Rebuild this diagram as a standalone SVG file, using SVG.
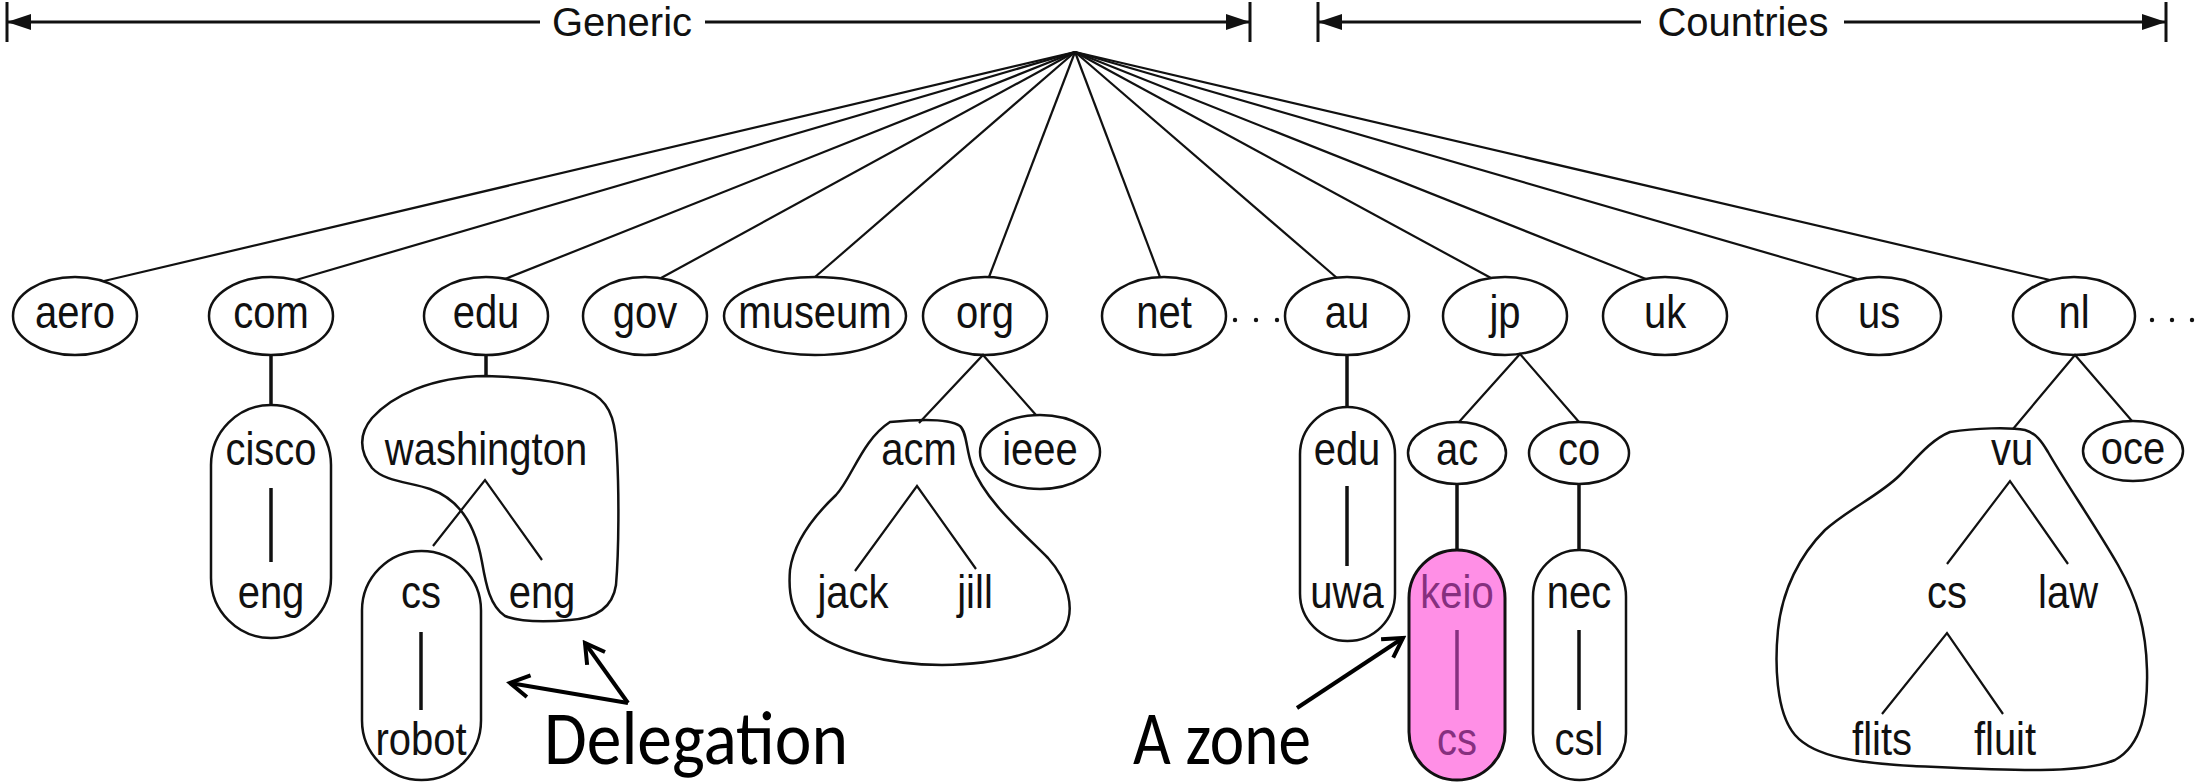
<svg xmlns="http://www.w3.org/2000/svg" width="2198" height="783" viewBox="0 0 2198 783">
<defs>
<style>
.lbl{font-family:"Liberation Sans",Arial,sans-serif;font-size:40px;text-anchor:middle;fill:#111}
.pk{fill:#86307f}
.bar{font-family:"Liberation Sans",Arial,sans-serif;font-size:40px;text-anchor:middle;fill:#111}
.ann{font-family:Carlito,Lato,"Liberation Sans",sans-serif;font-size:76px;fill:#000}
.node{fill:#fff;stroke:#111;stroke-width:2.5}
.zone{fill:none;stroke:#111;stroke-width:2.5}
.pink{fill:#ff8fe6;stroke:#111;stroke-width:3}
.edge{stroke:#111;stroke-width:2.2;fill:none}
.vedge{stroke:#111;stroke-width:3.5}
.pedge{stroke:#86307f;stroke-width:3.5}
.barline{stroke:#111;stroke-width:3;fill:none}
.tick{stroke:#111;stroke-width:3}
.ann-line{stroke:#000;stroke-width:4;fill:none}
.dot{fill:#111}
</style>
<marker id="tri" viewBox="0 0 24 16" refX="24" refY="8" markerWidth="24" markerHeight="16" markerUnits="userSpaceOnUse" orient="auto-start-reverse">
<path d="M0,0 L24,8 L0,16 z" fill="#111"/>
</marker>
<marker id="vee" viewBox="0 0 26 26" refX="22" refY="13" markerWidth="26" markerHeight="26" markerUnits="userSpaceOnUse" orient="auto">
<path d="M3,2 L22,13 L3,24" fill="none" stroke="#000" stroke-width="4"/>
</marker>
</defs>
<rect width="2198" height="783" fill="#fff"/>

<g id="generic-bar">
<line class="tick" x1="7" y1="2" x2="7" y2="42"/>
<line class="barline" x1="7" y1="22" x2="540" y2="22" marker-start="url(#tri)"/>
<text class="bar" x="622" y="36">Generic</text>
<line class="barline" x1="705" y1="22" x2="1250" y2="22" marker-end="url(#tri)"/>
<line class="tick" x1="1250" y1="2" x2="1250" y2="42"/>
</g>
<g id="countries-bar">
<line class="tick" x1="1318" y1="2" x2="1318" y2="42"/>
<line class="barline" x1="1318" y1="22" x2="1641" y2="22" marker-start="url(#tri)"/>
<text class="bar" x="1743" y="36">Countries</text>
<line class="barline" x1="1844" y1="22" x2="2166" y2="22" marker-end="url(#tri)"/>
<line class="tick" x1="2166" y1="2" x2="2166" y2="42"/>
</g>

<g id="nodes">
<g id="n-aero"><ellipse class="node" cx="75" cy="316" rx="62" ry="39"/><text class="lbl" transform="translate(75,328) scale(1,1.15)">aero</text></g>
<g id="n-com"><ellipse class="node" cx="271" cy="316" rx="62" ry="39"/><text class="lbl" transform="translate(271,328) scale(1,1.15)">com</text></g>
<g id="n-edu"><ellipse class="node" cx="486" cy="316" rx="62" ry="39"/><text class="lbl" transform="translate(486,328) scale(1,1.15)">edu</text></g>
<g id="n-gov"><ellipse class="node" cx="645" cy="316" rx="62" ry="39"/><text class="lbl" transform="translate(645,328) scale(1,1.15)">gov</text></g>
<g id="n-museum"><ellipse class="node" cx="815" cy="316" rx="91" ry="39"/><text class="lbl" transform="translate(815,328) scale(1,1.15)">museum</text></g>
<g id="n-org"><ellipse class="node" cx="985" cy="316" rx="62" ry="39"/><text class="lbl" transform="translate(985,328) scale(1,1.15)">org</text></g>
<g id="n-net"><ellipse class="node" cx="1164" cy="316" rx="62" ry="39"/><text class="lbl" transform="translate(1164,328) scale(1,1.15)">net</text></g>
<g id="n-au"><ellipse class="node" cx="1347" cy="316" rx="62" ry="39"/><text class="lbl" transform="translate(1347,328) scale(1,1.15)">au</text></g>
<g id="n-jp"><ellipse class="node" cx="1505" cy="316" rx="62" ry="39"/><text class="lbl" transform="translate(1505,328) scale(1,1.15)">jp</text></g>
<g id="n-uk"><ellipse class="node" cx="1665" cy="316" rx="62" ry="39"/><text class="lbl" transform="translate(1665,328) scale(1,1.15)">uk</text></g>
<g id="n-us"><ellipse class="node" cx="1879" cy="316" rx="62" ry="39"/><text class="lbl" transform="translate(1879,328) scale(1,1.15)">us</text></g>
<g id="n-nl"><ellipse class="node" cx="2074" cy="316" rx="61" ry="39"/><text class="lbl" transform="translate(2074,328) scale(1,1.15)">nl</text></g>

<g id="dots">
<circle class="dot" cx="1235" cy="320" r="2.2"/><circle class="dot" cx="1256" cy="320" r="2.2"/><circle class="dot" cx="1277" cy="320" r="2.2"/>
<circle class="dot" cx="2152" cy="320" r="2.2"/><circle class="dot" cx="2172" cy="320" r="2.2"/><circle class="dot" cx="2192" cy="320" r="2.2"/>
</g>

<g id="z-cisco"><rect class="zone" x="211" y="405" width="120" height="233" rx="60" ry="60"/>
<text class="lbl" transform="translate(271,465) scale(1,1.15)">cisco</text>
<text class="lbl" transform="translate(271,608) scale(1,1.15)">eng</text></g>

<g id="z-washington"><path class="zone" d="M486,376 C530,377 575,383 595,395 C612,406 616,425 617,455 C619,490 619,550 616,585 C613,605 600,618 570,620 C545,622 520,622 505,616 C490,606 486,585 482,562 C476,528 462,500 430,489 C410,482 385,482 372,468 C360,452 358,435 372,418 C392,396 430,377 486,376 Z"/>
<text class="lbl" transform="translate(486,465) scale(1,1.15)">washington</text>
<text class="lbl" transform="translate(542,608) scale(1,1.15)">eng</text></g>

<g id="z-cs-robot"><rect class="zone" x="362" y="551" width="119" height="229" rx="59.5" ry="59.5"/>
<text class="lbl" transform="translate(421,608) scale(1,1.15)">cs</text>
<text class="lbl" transform="translate(421,755) scale(1,1.15)">robot</text></g>

<g id="z-acm"><path class="zone" d="M890,422 C920,419 950,419 960,426 C967,432 966,450 972,466 C985,500 1020,530 1048,558 C1068,580 1076,610 1064,630 C1048,652 1000,664 942,665 C885,665 835,650 810,630 C792,614 788,595 790,570 C794,540 815,515 836,495 C852,478 862,440 890,422 Z"/>
<text class="lbl" transform="translate(919,465) scale(1,1.15)">acm</text>
<text class="lbl" transform="translate(853,608) scale(1,1.15)">jack</text>
<text class="lbl" transform="translate(975,608) scale(1,1.15)">jill</text></g>

<g id="n-ieee"><ellipse class="node" cx="1040" cy="452" rx="60" ry="37"/><text class="lbl" transform="translate(1040,465) scale(1,1.15)">ieee</text></g>

<g id="z-au-edu"><rect class="zone" x="1300" y="407" width="95" height="234" rx="47.5" ry="47.5"/>
<text class="lbl" transform="translate(1347,465) scale(1,1.15)">edu</text>
<text class="lbl" transform="translate(1347,608) scale(1,1.15)">uwa</text></g>

<g id="n-ac"><ellipse class="node" cx="1457" cy="453" rx="49" ry="31"/><text class="lbl" transform="translate(1457,465) scale(1,1.15)">ac</text></g>
<g id="n-co"><ellipse class="node" cx="1579" cy="453" rx="50" ry="31"/><text class="lbl" transform="translate(1579,465) scale(1,1.15)">co</text></g>

<g id="z-keio"><rect class="pink" x="1409" y="550" width="96" height="230" rx="48" ry="48"/>
<text class="lbl pk" transform="translate(1457,608) scale(1,1.15)">keio</text>
<text class="lbl pk" transform="translate(1457,755) scale(1,1.15)">cs</text></g>

<g id="z-nec"><rect class="zone" x="1533" y="550" width="93" height="230" rx="46.5" ry="46.5"/>
<text class="lbl" transform="translate(1579,608) scale(1,1.15)">nec</text>
<text class="lbl" transform="translate(1579,755) scale(1,1.15)">csl</text></g>

<g id="z-vu"><path class="zone" d="M1950,432 C1975,428 2010,427 2025,430 C2036,433 2042,442 2048,452 C2065,482 2095,525 2118,565 C2138,600 2146,630 2147,670 C2148,710 2142,745 2115,760 C2080,775 2000,770 1913,766 C1860,763 1815,758 1795,735 C1775,712 1775,660 1778,630 C1782,590 1800,555 1825,530 C1850,508 1880,495 1900,475 C1915,460 1930,440 1950,432 Z"/>
<text class="lbl" transform="translate(2012,465) scale(1,1.15)">vu</text>
<text class="lbl" transform="translate(1947,608) scale(1,1.15)">cs</text>
<text class="lbl" transform="translate(2068,608) scale(1,1.15)">law</text>
<text class="lbl" transform="translate(1882,755) scale(1,1.15)">flits</text>
<text class="lbl" transform="translate(2005,755) scale(1,1.15)">fluit</text></g>

<g id="n-oce"><ellipse class="node" cx="2133" cy="451" rx="50" ry="30"/><text class="lbl" transform="translate(2133,464) scale(1,1.15)">oce</text></g>
</g>

<g id="connectors">
<line class="edge" x1="1075" y1="52" x2="104" y2="281"/>
<line class="edge" x1="1075" y1="52" x2="296" y2="280"/>
<line class="edge" x1="1075" y1="52" x2="505" y2="279"/>
<line class="edge" x1="1075" y1="52" x2="661" y2="278"/>
<line class="edge" x1="1075" y1="52" x2="815" y2="277"/>
<line class="edge" x1="1075" y1="52" x2="989" y2="277"/>
<line class="edge" x1="1075" y1="52" x2="1160" y2="277"/>
<line class="edge" x1="1075" y1="52" x2="1337" y2="278"/>
<line class="edge" x1="1075" y1="52" x2="1491" y2="278"/>
<line class="edge" x1="1075" y1="52" x2="1646" y2="279"/>
<line class="edge" x1="1075" y1="52" x2="1857" y2="279"/>
<line class="edge" x1="1075" y1="52" x2="2050" y2="280"/>

<line class="vedge" x1="271" y1="355" x2="271" y2="405"/>
<line class="vedge" x1="271" y1="488" x2="271" y2="562"/>
<line class="vedge" x1="486" y1="355" x2="486" y2="376"/>
<polyline class="edge" points="433,546 485,480 542,560"/>
<line class="vedge" x1="421" y1="632" x2="421" y2="710"/>

<polyline class="edge" points="919,423 983,355 1036,415"/>
<polyline class="edge" points="855,571 917,486 976,569"/>

<line class="vedge" x1="1347" y1="355" x2="1347" y2="407"/>
<line class="vedge" x1="1347" y1="486" x2="1347" y2="566"/>
<polyline class="edge" points="1459,422 1520,354 1579,422"/>
<line class="vedge" x1="1457" y1="484" x2="1457" y2="550"/>
<line class="pedge" x1="1457" y1="630" x2="1457" y2="710"/>
<line class="vedge" x1="1579" y1="484" x2="1579" y2="550"/>
<line class="vedge" x1="1579" y1="630" x2="1579" y2="710"/>

<polyline class="edge" points="2013,429 2075,355 2132,421"/>
<polyline class="edge" points="1947,564 2010,481 2068,564"/>
<polyline class="edge" points="1882,714 1947,633 2003,714"/>
</g>

<g id="annotations">
<line class="ann-line" x1="628" y1="703" x2="510" y2="683" marker-end="url(#vee)"/>
<line class="ann-line" x1="628" y1="703" x2="585" y2="643" marker-end="url(#vee)"/>
<text class="ann" x="544" y="764" textLength="304" lengthAdjust="spacingAndGlyphs">Delegation</text>
<line class="ann-line" x1="1297" y1="708" x2="1403" y2="638" marker-end="url(#vee)"/>
<text class="ann" x="1133" y="764" textLength="178" lengthAdjust="spacingAndGlyphs">A zone</text>
</g>
</svg>
